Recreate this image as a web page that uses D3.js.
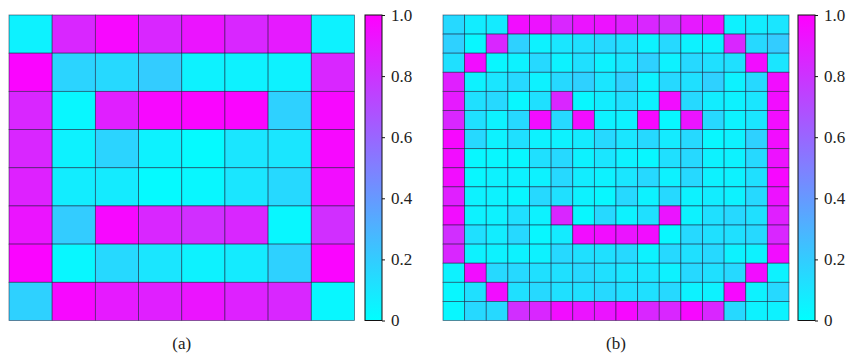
<!DOCTYPE html>
<html>
<head>
<meta charset="utf-8">
<script src="https://cdn.jsdelivr.net/npm/d3@7"></script>
<style>
  html, body { margin: 0; padding: 0; background: #fff; }
  svg text { font-family: "Liberation Serif", "DejaVu Serif", serif; fill: #222; }
</style>
</head>
<body>
<div id="chart"></div>
<script>
// panel (a): 8x8 grid, top row first
const gridA = [
  [0.05, 0.85, 0.97, 0.85, 0.92, 0.85, 0.90, 0.05],
  [0.98, 0.17, 0.15, 0.20, 0.05, 0.05, 0.05, 0.85],
  [0.85, 0.03, 0.88, 0.97, 0.98, 0.98, 0.18, 0.97],
  [0.85, 0.05, 0.17, 0.05, 0.02, 0.10, 0.10, 0.97],
  [0.87, 0.07, 0.08, 0.02, 0.03, 0.10, 0.15, 0.95],
  [0.92, 0.20, 0.97, 0.85, 0.82, 0.85, 0.03, 0.82],
  [0.98, 0.03, 0.15, 0.10, 0.05, 0.08, 0.18, 0.98],
  [0.18, 0.97, 0.90, 0.88, 0.92, 0.87, 0.85, 0.03]
];

// panel (b): 16x16 grid (smiley), top row first
const gridB = [
  [0.15, 0.07, 0.08, 0.95, 0.93, 0.85, 0.92, 0.93, 0.88, 0.85, 0.82, 0.90, 0.92, 0.05, 0.07, 0.10],
  [0.18, 0.03, 0.85, 0.18, 0.05, 0.10, 0.12, 0.15, 0.12, 0.05, 0.15, 0.05, 0.05, 0.85, 0.15, 0.20],
  [0.12, 0.95, 0.03, 0.05, 0.15, 0.05, 0.12, 0.05, 0.10, 0.18, 0.05, 0.15, 0.12, 0.12, 0.95, 0.10],
  [0.88, 0.05, 0.10, 0.15, 0.05, 0.15, 0.18, 0.10, 0.18, 0.05, 0.15, 0.12, 0.18, 0.05, 0.15, 0.95],
  [0.90, 0.12, 0.15, 0.03, 0.12, 0.85, 0.03, 0.07, 0.12, 0.05, 0.95, 0.15, 0.07, 0.05, 0.10, 0.95],
  [0.85, 0.12, 0.05, 0.15, 0.95, 0.15, 0.95, 0.05, 0.05, 0.97, 0.03, 0.92, 0.15, 0.05, 0.10, 0.95],
  [0.97, 0.15, 0.05, 0.12, 0.05, 0.05, 0.08, 0.15, 0.10, 0.15, 0.08, 0.15, 0.03, 0.05, 0.18, 0.95],
  [0.95, 0.03, 0.03, 0.03, 0.12, 0.15, 0.05, 0.10, 0.05, 0.03, 0.12, 0.15, 0.05, 0.05, 0.15, 0.93],
  [0.95, 0.03, 0.05, 0.05, 0.05, 0.15, 0.07, 0.05, 0.10, 0.15, 0.05, 0.15, 0.05, 0.05, 0.12, 0.97],
  [0.88, 0.05, 0.05, 0.03, 0.15, 0.12, 0.05, 0.03, 0.15, 0.05, 0.15, 0.05, 0.07, 0.05, 0.15, 0.93],
  [0.95, 0.05, 0.05, 0.12, 0.05, 0.85, 0.03, 0.15, 0.05, 0.12, 0.92, 0.05, 0.12, 0.15, 0.12, 0.88],
  [0.82, 0.12, 0.07, 0.15, 0.03, 0.08, 0.95, 0.95, 0.92, 0.95, 0.03, 0.15, 0.12, 0.12, 0.15, 0.85],
  [0.85, 0.05, 0.05, 0.05, 0.05, 0.15, 0.12, 0.12, 0.15, 0.05, 0.15, 0.12, 0.15, 0.05, 0.05, 0.95],
  [0.05, 0.95, 0.15, 0.15, 0.12, 0.12, 0.15, 0.12, 0.10, 0.10, 0.05, 0.15, 0.12, 0.15, 0.95, 0.05],
  [0.03, 0.12, 0.95, 0.12, 0.15, 0.12, 0.12, 0.15, 0.12, 0.12, 0.15, 0.05, 0.05, 0.97, 0.05, 0.15],
  [0.03, 0.15, 0.15, 0.82, 0.85, 0.95, 0.92, 0.92, 0.97, 0.85, 0.85, 0.97, 0.85, 0.15, 0.05, 0.05]
];

const colorTicks = [0, 0.2, 0.4, 0.6, 0.8, 1.0];
const panelLabels = ['(a)', '(b)'];

const W = 852, H = 356;
const svg = d3.select('#chart').append('svg')
  .attr('width', W).attr('height', H);

// matplotlib "cool": cyan -> magenta
const color = d3.scaleSequential(d3.interpolateRgb('#00ffff', '#ff00ff')).domain([0, 1]);

const defs = svg.append('defs');
const grad = defs.append('linearGradient')
  .attr('id', 'coolGrad')
  .attr('x1', '0%').attr('y1', '100%')
  .attr('x2', '0%').attr('y2', '0%');
d3.range(0, 1.0001, 0.1).forEach((t) => {
  grad.append('stop').attr('offset', `${t * 100}%`).attr('stop-color', color(t));
});

const panels = [
  { grid: gridA, x0: 9, x1: 354.5, cb: 365, label: panelLabels[0] },
  { grid: gridB, x0: 443, x1: 789, cb: 798, label: panelLabels[1] }
];
const plotTop = 15, plotBottom = 320.5, cbW = 17;

panels.forEach((p) => {
  const n = p.grid.length;
  const x = d3.scaleBand().domain(d3.range(n)).range([p.x0, p.x1]);
  const y = d3.scaleBand().domain(d3.range(n)).range([plotTop, plotBottom]);

  const cells = [];
  p.grid.forEach((row, r) => row.forEach((v, c) => cells.push({ r, c, v })));

  svg.append('g')
    .selectAll('rect')
    .data(cells)
    .enter()
    .append('rect')
    .attr('x', (d) => x(d.c))
    .attr('y', (d) => y(d.r))
    .attr('width', x.bandwidth())
    .attr('height', y.bandwidth())
    .attr('fill', (d) => color(d.v))
    .attr('stroke', 'rgba(20,20,50,0.6)')
    .attr('stroke-width', 0.8);

  // colorbar
  const cy = d3.scaleLinear().domain([0, 1]).range([plotBottom, plotTop]);
  const cbG = svg.append('g');
  cbG.append('rect')
    .attr('x', p.cb).attr('y', plotTop)
    .attr('width', cbW).attr('height', plotBottom - plotTop)
    .attr('fill', 'url(#coolGrad)')
    .attr('stroke', '#111').attr('stroke-width', 1);

  const axis = cbG.append('g')
    .attr('transform', `translate(${p.cb + cbW},0)`)
    .call(d3.axisRight(cy)
      .tickValues(colorTicks)
      .tickSize(3)
      .tickPadding(6)
      .tickFormat((d) => (d === 0 ? '0' : d3.format('.1f')(d))));
  axis.select('.domain').remove();
  axis.selectAll('line').attr('stroke', '#111');
  axis.selectAll('text')
    .style('font-size', '17px')
    .style('font-family', '"Liberation Serif", serif')
    .attr('fill', '#222');

  svg.append('text')
    .attr('x', (p.x0 + p.x1) / 2)
    .attr('y', 349)
    .attr('text-anchor', 'middle')
    .style('font-size', '17px')
    .text(p.label);
});
</script>
</body>
</html>
